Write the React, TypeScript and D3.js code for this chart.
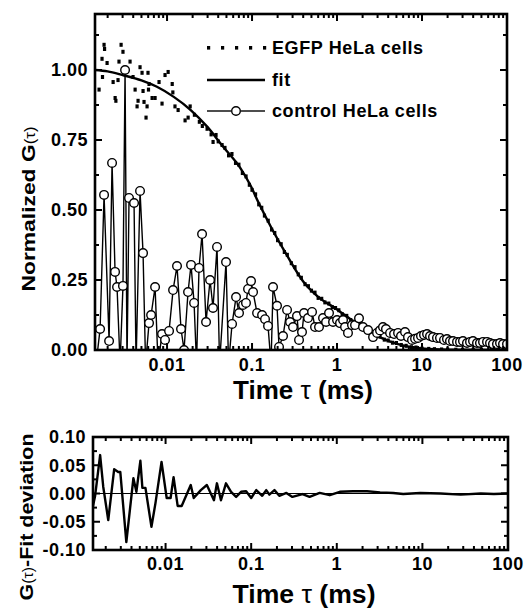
import React from 'react'
import * as d3 from 'd3'

// EGFP HeLa cells: raw normalized correlation, tau in ms
const egfpTau = [
  0.001585, 0.001718, 0.00174, 0.001815, 0.00184, 0.00197, 0.00232, 0.00245, 0.0025, 0.00265,
  0.00272, 0.00288, 0.00303, 0.00367, 0.00398, 0.00421, 0.00444, 0.00456, 0.00481, 0.00508,
  0.00522, 0.00536, 0.00566, 0.00582, 0.00597, 0.00605, 0.00614, 0.00667, 0.00723, 0.00805,
  0.00873, 0.00947, 0.0103, 0.0115, 0.0117, 0.0124, 0.0135, 0.0163, 0.0177, 0.0187,
  0.021, 0.024, 0.026, 0.0296, 0.033, 0.0348, 0.0377, 0.04, 0.0444,
  0.048, 0.053, 0.058, 0.064, 0.07, 0.077, 0.085, 0.093, 0.1, 0.11, 0.12, 0.13, 0.14, 0.155,
  0.17, 0.185, 0.2, 0.22, 0.24, 0.26, 0.29, 0.32, 0.35, 0.38, 0.42, 0.46, 0.5, 0.55, 0.6,
  0.66, 0.72, 0.8, 0.88, 0.96, 1.05, 1.15, 1.3, 1.45, 1.6, 1.8, 2.0, 2.2, 2.5, 2.8, 3.2,
  3.6, 4.0, 4.5, 5.0, 5.7, 6.5, 7.5, 8.5, 10, 12, 14, 17, 20, 25, 30, 40, 50, 65, 80, 100,
]
const egfpG = [
  0.93, 1.04, 0.975, 1.09, 1.075, 1.025, 0.957, 0.9, 0.89, 0.964,
  1.03, 1.09, 1.065, 1.03, 0.975, 0.93, 0.87, 0.89, 1.01, 0.99,
  0.925, 0.886, 0.83, 0.87, 0.99, 0.93, 0.95, 0.9, 0.9, 0.957,
  0.88, 0.982, 0.993, 0.95, 0.92, 0.87, 0.857, 0.82, 0.83, 0.87,
  0.84, 0.815, 0.8, 0.79, 0.77, 0.743, 0.768, 0.745, 0.732,
  0.722, 0.695, 0.7, 0.668, 0.662, 0.632, 0.62, 0.59, 0.572, 0.556, 0.52, 0.508, 0.48, 0.462,
  0.43, 0.418, 0.392, 0.378, 0.35, 0.34, 0.31, 0.296, 0.27, 0.258, 0.235, 0.228, 0.212, 0.205, 0.186,
  0.183, 0.17, 0.166, 0.153, 0.15, 0.142, 0.128, 0.122, 0.107, 0.101, 0.088, 0.083, 0.07, 0.064, 0.053, 0.048,
  0.037, 0.034, 0.026, 0.025, 0.018, 0.015, 0.01, 0.009, 0.005, 0.004, 0.003, 0.002, 0.002, 0.001, 0.0, 0.001, 0.0, 0.0, 0.001, 0.0,
]

// fit curve
const fitTau = [
  0.00142, 0.002, 0.003, 0.005, 0.0076, 0.012, 0.019, 0.03, 0.046, 0.072, 0.095, 0.12, 0.17,
  0.25, 0.4, 0.6, 1.0, 1.6, 2.5, 4.0, 6.5, 10, 20, 100,
]
const fitG = [
  1.0, 0.995, 0.982, 0.963, 0.94, 0.904, 0.857, 0.796, 0.725, 0.652, 0.59, 0.525, 0.435,
  0.345, 0.245, 0.19, 0.145, 0.1, 0.062, 0.033, 0.014, 0.006, 0.0015, 0.0,
]

// control HeLa cells (negative values fall below the axis)
const ctrlTau = [
  0.001462, 0.00163, 0.001815, 0.00208, 0.002254, 0.002445, 0.00258, 0.0028, 0.00303, 0.003206,
  0.00338, 0.00357, 0.00409, 0.00432, 0.00481, 0.00522, 0.00559, 0.00614, 0.00649, 0.00723,
  0.00784, 0.00873, 0.00947, 0.01056, 0.01177, 0.0131, 0.0146, 0.01585, 0.01766, 0.01916,
  0.0208, 0.02223, 0.02377, 0.02582, 0.02877, 0.03206, 0.03475, 0.03873, 0.0415, 0.04943,
  0.05296, 0.05821, 0.06486, 0.07031, 0.07834, 0.0849, 0.08974, 0.09727, 0.1028, 0.1146,
  0.1312, 0.1422, 0.1542, 0.1674, 0.1766, 0.1968, 0.2078, 0.2316, 0.2582, 0.2799,
  0.3034, 0.3381, 0.3572, 0.3873, 0.4091, 0.456, 0.5082, 0.5508, 0.6138, 0.6842,
  0.743, 0.8053, 0.8974, 1.0, 1.084, 1.177, 1.242, 1.346, 1.5, 1.628,
  1.814, 2.022, 2.317, 2.654, 2.958, 3.206, 3.475, 3.767, 4.207, 4.688,
  5.224, 5.662, 6.31, 6.839, 7.622, 8.276, 8.974, 9.727, 10.56, 11.46,
  12.42, 13.46, 15.0, 16.28, 18.14, 19.66, 21.33, 23.16, 25.82, 27.99,
  30.34, 33.81, 36.72, 39.81, 44.36, 48.08, 52.24, 58.21, 63.1, 68.39,
  76.22, 82.76, 89.74, 100,
]
const ctrlG = [
  -0.05, 0.075, 0.554, 0.032, 0.668, 0.279, 0.225, -0.05, 0.229, 1.0,
  -0.05, 0.543, 0.525, -0.05, 0.568, 0.346, -0.05, 0.096, 0.125, 0.225,
  -0.05, 0.057, 0.036, 0.068, 0.214, 0.3, 0.075, 0.0, 0.207, 0.304,
  0.168, -0.05, 0.293, 0.414, 0.1, 0.25, 0.15, 0.368, -0.05, 0.314,
  -0.05, 0.093, 0.189, 0.132, 0.161, 0.168, 0.218, 0.246, 0.207, 0.132,
  0.125, 0.11, 0.086, -0.05, 0.225, 0.158, 0.011, 0.05, 0.143, 0.1,
  0.082, 0.121, 0.036, 0.064, 0.132, 0.114, 0.136, 0.082, 0.082, 0.114,
  0.1, 0.132, 0.1, 0.107, 0.096, 0.107, 0.082, 0.061, 0.089, 0.089,
  0.113, 0.082, 0.071, 0.046, 0.061, 0.07, 0.082, 0.075, 0.061, 0.057,
  0.061, 0.05, 0.064, 0.046, 0.036, 0.04, 0.043, 0.05, 0.054, 0.057,
  0.05, 0.046, 0.043, 0.043, 0.036, 0.039, 0.032, 0.032, 0.029, 0.029,
  0.032, 0.025, 0.029, 0.032, 0.025, 0.025, 0.029, 0.029, 0.025, 0.021,
  0.021, 0.025, 0.021, 0.021,
]

// G(tau) - fit residuals
const resTau = [
  0.00142, 0.0015, 0.00172, 0.00187, 0.00214, 0.00251, 0.0028, 0.00296, 0.00348, 0.00421,
  0.00456, 0.00508, 0.00536, 0.00582, 0.00684, 0.00762, 0.00897, 0.0103, 0.01145, 0.0124,
  0.01384, 0.01542, 0.01968, 0.02133, 0.02582, 0.03036, 0.03673, 0.03981, 0.04436, 0.05077,
  0.05821, 0.06668, 0.07622, 0.0873, 0.1, 0.1146, 0.1346, 0.15, 0.163, 0.187,
  0.213, 0.258, 0.303, 0.398, 0.481, 0.631, 0.828, 1.084, 1.542, 2.254,
  3.206, 4.56, 5.97, 9.46, 16.28, 27.99, 48.08, 68.39, 100,
]
const resG = [
  -0.022, -0.005, 0.068, 0.012, -0.047, 0.043, 0.038, 0.038, -0.086, 0.027,
  0.003, 0.058, 0.01, 0.01, -0.059, -0.017, 0.056, -0.008, -0.008, 0.029,
  -0.022, -0.022, 0.015, -0.008, 0.006, 0.015, -0.012, 0.018, -0.012, 0.018,
  0.003, -0.006, 0.003, 0.004, -0.008, 0.006, -0.004, 0.006, -0.002, 0.006,
  -0.004, 0.001, -0.006, -0.001, -0.006, 0.001, -0.003, 0.003, 0.004, 0.004,
  0.002, 0.001, -0.001, 0.001, 0, -0.002, 0, -0.001, 0,
]

const xTicks = [0.01, 0.1, 1, 10, 100]
const xTickLabels = ['0.01', '0.1', '1', '10', '100']
const topYTicks = [0, 0.25, 0.5, 0.75, 1.0]
const topYLabels = ['0.00', '0.25', '0.50', '0.75', '1.00']
const resYTicks = [-0.1, -0.05, 0, 0.05, 0.1]
const resYLabels = ['-0.10', '-0.05', '0.00', '0.05', '0.10']
const legendLabels = ['EGFP HeLa cells', 'fit', 'control HeLa cells']

const FONT = '"Liberation Sans", Arial, sans-serif'
const TAU_MIN = 0.00142

// box with inward ticks on all four sides
function Frame({ xs, ys, yMajor, yMinor }) {
  const [x0, x1] = xs.range()
  const [y1, y0] = ys.range()
  const logTicks = xs.ticks()
  const isMajor = (v) => Math.abs(Math.log10(v) - Math.round(Math.log10(v))) < 1e-6
  return (
    <g stroke="#000" fill="none" strokeWidth={2}>
      {logTicks.map((v, i) => {
        const len = isMajor(v) ? 7 : 4
        const px = xs(v)
        return (
          <g key={'x' + i}>
            <line x1={px} x2={px} y1={y1} y2={y1 - len} />
            <line x1={px} x2={px} y1={y0} y2={y0 + len} />
          </g>
        )
      })}
      {yMajor.map((v, i) => (
        <g key={'yM' + i}>
          <line x1={x0} x2={x0 + 7} y1={ys(v)} y2={ys(v)} />
          <line x1={x1} x2={x1 - 7} y1={ys(v)} y2={ys(v)} />
        </g>
      ))}
      {yMinor.map((v, i) => (
        <g key={'ym' + i}>
          <line x1={x0} x2={x0 + 4} y1={ys(v)} y2={ys(v)} />
          <line x1={x1} x2={x1 - 4} y1={ys(v)} y2={ys(v)} />
        </g>
      ))}
      <rect x={x0} y={y0} width={x1 - x0} height={y1 - y0} strokeWidth={2.6} />
    </g>
  )
}

export default function App() {
  // main panel
  const x = d3.scaleLog().domain([TAU_MIN, 100]).range([95, 507])
  const y = d3.scaleLinear().domain([0, 1.2]).range([350, 14])
  // residual panel
  const xr = d3.scaleLog().domain([TAU_MIN, 100]).range([93, 508])
  const yr = d3.scaleLinear().domain([-0.1, 0.1]).range([550, 437])

  const fitPts = fitTau.map((t, i) => [t, fitG[i]])
  const ctrlPts = ctrlTau.map((t, i) => [t, ctrlG[i]])
  const resPts = resTau.map((t, i) => [t, resG[i]])

  const fitLine = d3
    .line()
    .x((d) => x(d[0]))
    .y((d) => y(d[1]))
    .curve(d3.curveMonotoneX)
  const ctrlLine = d3
    .line()
    .x((d) => x(d[0]))
    .y((d) => y(d[1]))
  const resLine = d3
    .line()
    .x((d) => xr(d[0]))
    .y((d) => yr(d[1]))

  const topMinor = [0.125, 0.375, 0.625, 0.875, 1.125]
  const resMinor = [-0.075, -0.025, 0.025, 0.075]

  const legendRows = [48, 80, 111]

  return (
    <svg
      width={530}
      height={611}
      style={{ position: 'absolute', left: 0, top: 0, background: '#fff' }}
      fontFamily={FONT}
      fontWeight="bold"
    >
      <defs>
        <clipPath id="clipTop">
          <rect x={95} y={14} width={412} height={336} />
        </clipPath>
        <clipPath id="clipRes">
          <rect x={93} y={437} width={415} height={113} />
        </clipPath>
      </defs>

      {/* main panel */}
      <g clipPath="url(#clipTop)">
        <path d={fitLine(fitPts)} fill="none" stroke="#000" strokeWidth={2.4} />
        {egfpTau.map((t, i) => (
          <rect key={i} x={x(t) - 1.6} y={y(egfpG[i]) - 2} width={3.2} height={4} fill="#000" />
        ))}
        <path d={ctrlLine(ctrlPts)} fill="none" stroke="#000" strokeWidth={1.4} />
        {ctrlPts.map((d, i) => (
          <circle key={i} cx={x(d[0])} cy={y(d[1])} r={4.3} fill="#fff" stroke="#000" strokeWidth={1.4} />
        ))}
      </g>
      <Frame xs={x} ys={y} yMajor={topYTicks} yMinor={topMinor} />
      {topYTicks.map((v, i) => (
        <text key={i} x={88} y={y(v)} dy="0.36em" textAnchor="end" fontSize={18} letterSpacing={0.5}>
          {topYLabels[i]}
        </text>
      ))}
      {xTicks.map((v, i) => (
        <text key={i} x={x(v)} y={371} textAnchor="middle" fontSize={18} letterSpacing={0.5}>
          {xTickLabels[i]}
        </text>
      ))}
      <text x={303} y={399} textAnchor="middle" fontSize={25} textLength={140} lengthAdjust="spacingAndGlyphs">
        Time <tspan fontWeight="normal">τ</tspan> (ms)
      </text>
      <text
        transform="translate(35,209) rotate(-90)"
        textAnchor="middle"
        fontSize={19}
        textLength={165}
        lengthAdjust="spacingAndGlyphs"
      >
        Normalized G<tspan fontWeight="normal" fontSize={14}>(τ)</tspan>
      </text>

      {/* legend */}
      <g>
        {[0, 1, 2, 3, 4].map((k) => (
          <rect key={k} x={207 + k * 14} y={legendRows[0] - 2} width={3.2} height={3.6} fill="#000" />
        ))}
        <line x1={207} x2={265} y1={legendRows[1]} y2={legendRows[1]} stroke="#000" strokeWidth={2.4} />
        <line x1={207} x2={231} y1={legendRows[2]} y2={legendRows[2]} stroke="#000" strokeWidth={1.4} />
        <line x1={241} x2={265} y1={legendRows[2]} y2={legendRows[2]} stroke="#000" strokeWidth={1.4} />
        <circle cx={236} cy={legendRows[2]} r={4.3} fill="#fff" stroke="#000" strokeWidth={1.4} />
        {legendLabels.map((s, i) => (
          <text key={i} x={272} y={legendRows[i]} dy="0.36em" fontSize={18} letterSpacing={0.6}>
            {s}
          </text>
        ))}
      </g>

      {/* residual panel */}
      <line x1={93} x2={508} y1={yr(0)} y2={yr(0)} stroke="#000" strokeWidth={1} />
      <g clipPath="url(#clipRes)">
        <path d={resLine(resPts)} fill="none" stroke="#000" strokeWidth={2.4} strokeLinejoin="round" />
      </g>
      <Frame xs={xr} ys={yr} yMajor={resYTicks} yMinor={resMinor} />
      {resYTicks.map((v, i) => (
        <text key={i} x={86} y={yr(v)} dy="0.36em" textAnchor="end" fontSize={18} letterSpacing={0.5}>
          {resYLabels[i]}
        </text>
      ))}
      {xTicks.map((v, i) => (
        <text key={i} x={xr(v)} y={570} textAnchor="middle" fontSize={18} letterSpacing={0.5}>
          {xTickLabels[i]}
        </text>
      ))}
      <text x={304} y={603} textAnchor="middle" fontSize={25} textLength={143} lengthAdjust="spacingAndGlyphs">
        Time <tspan fontWeight="normal">τ</tspan> (ms)
      </text>
      <text
        transform="translate(33,517) rotate(-90)"
        textAnchor="middle"
        fontSize={19}
        textLength={167}
        lengthAdjust="spacingAndGlyphs"
      >
        G<tspan fontWeight="normal" fontSize={14}>(τ)</tspan>-Fit deviation
      </text>
    </svg>
  )
}
